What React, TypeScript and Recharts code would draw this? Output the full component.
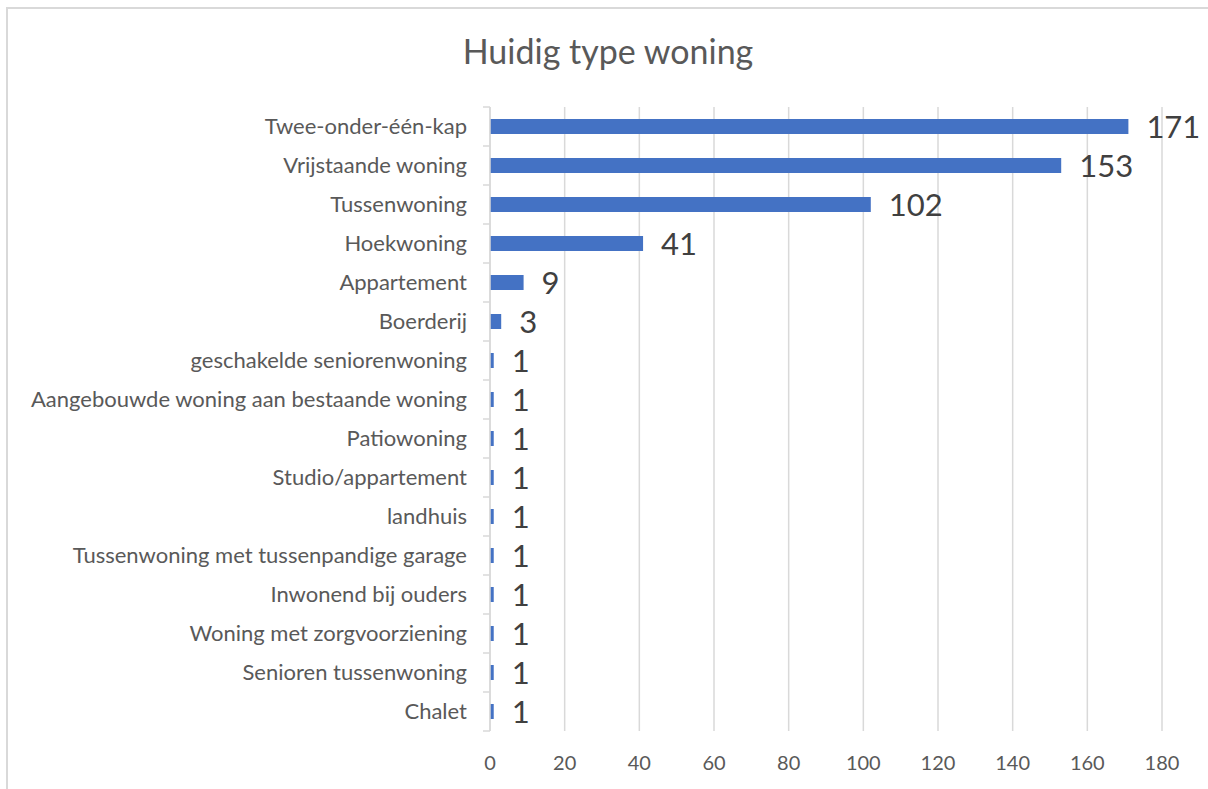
import React from "react"
import { BarChart, Bar, XAxis, YAxis, CartesianGrid, LabelList } from "recharts"

const categories = [
  "Twee-onder-één-kap",
  "Vrijstaande woning",
  "Tussenwoning",
  "Hoekwoning",
  "Appartement",
  "Boerderij",
  "geschakelde seniorenwoning",
  "Aangebouwde woning aan bestaande woning",
  "Patiowoning",
  "Studio/appartement",
  "landhuis",
  "Tussenwoning met tussenpandige garage",
  "Inwonend bij ouders",
  "Woning met zorgvoorziening",
  "Senioren tussenwoning",
  "Chalet",
]

const counts = [171, 153, 102, 41, 9, 3, 1, 1, 1, 1, 1, 1, 1, 1, 1, 1]

const xTicks = [0, 20, 40, 60, 80, 100, 120, 140, 160, 180]

const data = categories.map((name, i) => ({ name, value: counts[i] }))

const FONT = "Lato, 'Open Sans', sans-serif"
const GRID = "#d9d9d9"
const TEXT = "#595959"
const BAND = 39

function CategoryTick(props: any) {
  const { x, y, payload, index } = props
  const axisX = x
  return (
    <g>
      <text
        x={axisX - 23}
        y={y}
        dy={7.5}
        textAnchor="end"
        fill={TEXT}
        fontSize={22}
        fontFamily={FONT}
      >
        {payload.value}
      </text>
      <line x1={axisX - 7} x2={axisX} y1={y - BAND / 2} y2={y - BAND / 2} stroke={GRID} strokeWidth={1.5} />
      {index === categories.length - 1 && (
        <line x1={axisX - 7} x2={axisX} y1={y + BAND / 2} y2={y + BAND / 2} stroke={GRID} strokeWidth={1.5} />
      )}
    </g>
  )
}

export default function App() {
  return (
    <div style={{ position: "fixed", left: 0, top: 0, width: 1208, height: 789, overflow: "hidden", background: "#fff" }}>
      <div
        style={{
          position: "absolute",
          left: 6,
          top: 7,
          width: 1400,
          height: 1000,
          border: "2px solid #d9d9d9",
          boxSizing: "border-box",
        }}
      />
      <div
        style={{
          position: "absolute",
          left: 0,
          top: 31,
          width: 1216,
          textAlign: "center",
          fontFamily: FONT,
          fontSize: 34,
          color: TEXT,
          lineHeight: "40px",
        }}
      >
        Huidig type woning
      </div>
      <div style={{ position: "absolute", left: 0, top: 0 }}>
        <BarChart
          width={1208}
          height={789}
          data={data}
          layout="vertical"
          margin={{ top: 107, right: 46, bottom: 18, left: 0 }}
          barCategoryGap="62%"
        >
          <CartesianGrid horizontal={false} stroke={GRID} strokeWidth={1.5} />
          <XAxis
            type="number"
            domain={[0, 180]}
            ticks={xTicks}
            axisLine={false}
            tickLine={false}
            height={40}
            tick={{ fill: TEXT, fontSize: 20, fontFamily: FONT }}
            tickMargin={19}
          />
          <YAxis
            type="category"
            dataKey="name"
            width={490}
            axisLine={{ stroke: GRID, strokeWidth: 1.5 }}
            tickLine={false}
            tickSize={0}
            tickMargin={0}
            interval={0}
            tick={<CategoryTick />}
          />
          <Bar dataKey="value" fill="#4472C4" barSize={15} isAnimationActive={false}>
            <LabelList
              dataKey="value"
              position="right"
              offset={18}
              fill="#404040"
              fontSize={31}
              fontFamily={FONT}
            />
          </Bar>
        </BarChart>
      </div>
    </div>
  )
}
